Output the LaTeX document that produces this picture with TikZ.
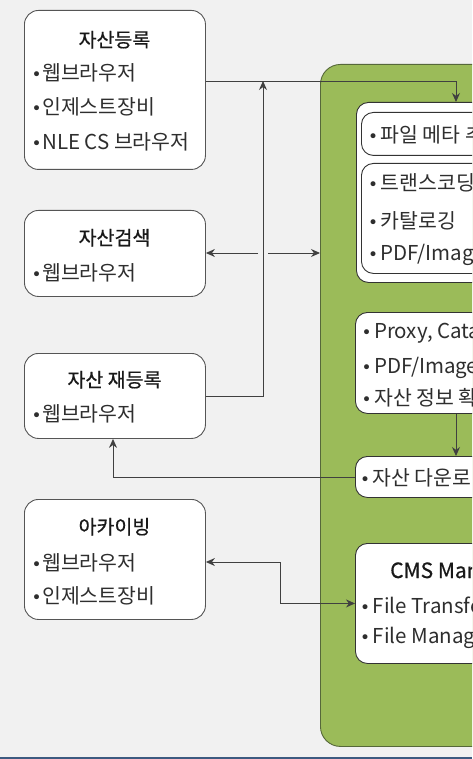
\documentclass[tikz,border=0pt]{standalone}
\usepackage{fontspec}
\setmainfont{Noto Sans CJK KR}
\newfontfamily\dvfont{DejaVu Sans}
\newfontfamily\ttlfont[FakeBold=0.6]{Noto Sans CJK KR}
\usetikzlibrary{arrows.meta,calc}
\definecolor{bgc}{HTML}{F1F1F1}
\definecolor{grn}{HTML}{9BBB59}
\definecolor{grnline}{HTML}{56683A}
\definecolor{bluebar}{HTML}{3D5A80}
\definecolor{linec}{HTML}{404040}
\definecolor{boxline}{HTML}{555555}
\definecolor{txt}{HTML}{2E2E2E}
\newcommand\bl{\makebox[11pt][c]{\dvfont\fontsize{17}{17}\selectfont •}}
\newcommand\blw{\makebox[15pt][c]{\dvfont\fontsize{17}{17}\selectfont •}}
\tikzset{
  lbox/.style={draw=boxline, line width=0.9pt, fill=white, rounded corners=14pt, anchor=north west, inner sep=0pt},
  ibox/.style={draw=black!80, line width=0.9pt, fill=white, rounded corners=12pt, anchor=north west, inner sep=0pt},
  ttl/.style={anchor=base, inner sep=0pt, font=\ttlfont\fontsize{19.5}{19.5}\selectfont, text=black!90},
  item/.style={anchor=base west, inner sep=0pt, font=\fontsize{20.5}{20.5}\selectfont, text=txt},
  conn/.style={draw=linec, line width=0.9pt},
  tip/.style={-{Stealth[length=9pt,width=8pt]}},
}
\begin{document}
\begin{tikzpicture}[x=1pt,y=-1pt]
\useasboundingbox (0,0) rectangle (472,759);
\clip (0,0) rectangle (472,759);
\fill[bgc] (0,0) rectangle (472,759);
\fill[bluebar] (0,756.5) rectangle (472,759);

% left boxes
\node[lbox, minimum width=181pt, minimum height=159pt] (b1) at (24,10) {};
\node[lbox, minimum width=181pt, minimum height=86pt] (b2) at (24,210) {};
\node[lbox, minimum width=181pt, minimum height=85pt] (b3) at (24,353) {};
\node[lbox, minimum width=181pt, minimum height=120pt] (b4) at (24,499) {};

\node[ttl] (t1) at (114.5,47) {자산등록};
\node[item] (t1a) at (31,81) {\bl 웹브라우저};
\node[item] (t1b) at (31,115) {\bl 인제스트장비};
\node[item] (t1c) at (31,150) {\bl NLE CS 브라우저};

\node[ttl] (t2) at (114.5,245) {자산검색};
\node[item] (t2a) at (31,280) {\bl 웹브라우저};

\node[ttl] (t3) at (114.5,387) {자산 재등록};
\node[item] (t3a) at (31,421) {\bl 웹브라우저};

\node[ttl] (t4) at (114.5,534) {아카이빙};
\node[item] (t4a) at (31,570) {\bl 웹브라우저};
\node[item] (t4b) at (31,603) {\bl 인제스트장비};

% green container
\node[draw=grnline, line width=0.9pt, fill=grn, rounded corners=20pt, anchor=north west, minimum width=220pt, minimum height=682pt, inner sep=0pt] (G) at (320,64) {};

\node[ibox, minimum width=180pt, minimum height=180pt] (A) at (356,102) {};
\node[ibox, minimum width=180pt, minimum height=43pt] (A1) at (361,112) {};
\node[ibox, minimum width=180pt, minimum height=110pt] (A2) at (361,163) {};
\node[ibox, minimum width=180pt, minimum height=101pt] (B) at (355,312) {};
\node[ibox, minimum width=180pt, minimum height=41pt] (C) at (355,456) {};
\node[ibox, minimum width=180pt, minimum height=120pt] (D) at (355,543) {};

\node[item] (a1) at (365.5,143) {\blw 파일 메타 추};
\node[item] (a2) at (365.5,191) {\blw 트랜스코딩};
\node[item] (a3) at (365.5,228) {\blw 카탈로깅};
\node[item] (a4) at (365.5,260) {\blw PDF/Imag};
\node[item] (bb1) at (359,338) {\blw Proxy, Cata};
\node[item] (bb2) at (359,373) {\blw PDF/Image};
\node[item] (bb3) at (359,405) {\blw 자산 정보 확};
\node[item] (cc1) at (357.5,485) {\blw 자산 다운로};
\node[ttl, anchor=base west, font=\ttlfont\fontsize{21}{21}\selectfont] (dt) at (390,578) {CMS Man};
\node[item] (d1) at (357.5,613) {\blw File Transfe};
\node[item] (d2) at (357.5,643) {\blw File Manag};

% connectors
\coordinate (j1) at (263,81);
\coordinate (g1) at (258,253);
\coordinate (g2) at (268,253);
\draw[conn, tip] ($(b1.north east)+(0,71)$) -| ($(A.north west)+(100,0)$);
\draw[conn, tip] ($(b3.north east)+(0,43)$) -| (j1);
\draw[conn, tip] (g1) -- (b2.east |- g1);
\draw[conn, tip] (g2) -- (G.west |- g2);
\draw[conn, tip] ($(B.south west)+(101,0)$) -- ($(C.north west)+(101,0)$);
\draw[conn, tip] (C.west) -| ($(b3.south west)+(89,0)$);
\draw[conn, {Stealth[length=9pt,width=8pt]}-{Stealth[length=9pt,width=8pt]}] ($(b4.north east)+(0,63)$) -| ($(D.west)+(-75,0)$) -- (D.west);
\end{tikzpicture}
\end{document}
